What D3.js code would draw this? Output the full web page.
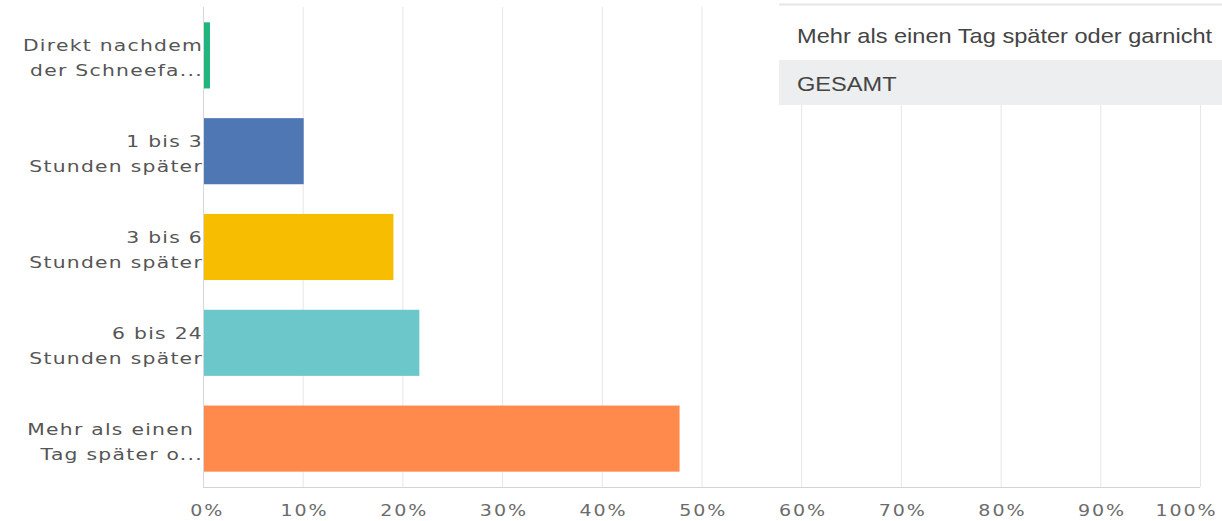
<!DOCTYPE html>
<html lang="de">
<meta charset="utf-8">
<head>
  <title>Schneefall</title>
  <style>
  body { margin: 0; background: #fff; }
  .grid line { stroke: #e6e6e6; stroke-width: 1px; }
  .grid path { display: none; }
  .axis--x path { display: none; }
  .axis--x line { display: none; }
  .axis--x text { font: 15px "DejaVu Sans", sans-serif; fill: #6b6b6b; letter-spacing: 1.5px; }
  .label { font: 16px "DejaVu Sans", sans-serif; fill: #555; letter-spacing: 1px; }
  .tip text { font: 20px "Liberation Sans", Arial, sans-serif; fill: #444; }
  </style>
</head>
<body>
<svg width="1222" height="521"></svg>
<script src="https://cdn.jsdelivr.net/npm/d3@7"></script>
<script>

// answers and shares (percent)
var categories = [
  ["Direkt nachdem", "der Schneefa..."],
  ["1 bis 3", "Stunden später"],
  ["3 bis 6", "Stunden später"],
  ["6 bis 24", "Stunden später"],
  ["Mehr als einen", "Tag später o..."]
];
var values = [0.6, 10.0, 19.0, 21.6, 47.7];
var colors = ["#1fb57c", "#4f77b4", "#f7bd00", "#6cc7cb", "#ff8a4c"];
var tickValues = [0, 10, 20, 30, 40, 50, 60, 70, 80, 90, 100];
var tipTitle = "Mehr als einen Tag später oder garnicht";
var tipRow = "GESAMT";

// the screenshot is a bit stretched sideways, text gets the same stretch
var stretch = 1.27;

var svg = d3.select("svg"),
    margin = {top: 7, right: 20, bottom: 34, left: 203},
    width = 1200 - margin.left,
    height = 487 - margin.top,
    g = svg.append("g").attr("transform", "translate(" + margin.left + "," + margin.top + ")");

var xScale = d3.scaleLinear().domain([0, 100]).range([0, width]);
var yScale = d3.scaleBand()
    .domain(d3.range(categories.length))
    .range([0, height])
    .paddingInner(0.31)
    .paddingOuter(0.16);

// vertical grid
g.append("g")
    .attr("class", "grid")
    .attr("transform", "translate(0," + height + ")")
    .call(d3.axisBottom(xScale).tickValues(tickValues).tickSize(-height).tickFormat(""));

// bottom baseline
g.append("line")
    .attr("x1", 0).attr("x2", width)
    .attr("y1", height + 0.5).attr("y2", height + 0.5)
    .attr("stroke", "#cfd4d8");

g.append("line")
    .attr("x1", 0.5).attr("x2", 0.5)
    .attr("y1", 0).attr("y2", height)
    .attr("stroke", "#d5d9dc");

g.selectAll(".bar")
    .data(values)
  .enter().append("rect")
    .attr("class", "bar")
    .attr("x", xScale(0) + 1)
    .attr("y", function(d, i) { return yScale(i); })
    .attr("width", function(d) { return xScale(d) - xScale(0); })
    .attr("height", yScale.bandwidth())
    .attr("fill", function(d, i) { return colors[i]; });

// first and last tick labels are pulled inwards, like in the original
g.append("g")
    .attr("class", "axis axis--x")
    .attr("transform", "translate(0," + height + ")")
    .call(d3.axisBottom(xScale).tickValues(tickValues).tickFormat(function(d) { return d + "%"; }).tickPadding(12))
  .selectAll("text")
    .attr("dx", function(d) { return d == 100 ? -11 : (d == 0 ? 3 : 1); })
    .attr("transform", "scale(" + stretch + ",1)");

var labels = g.selectAll(".label")
    .data(categories)
  .enter().append("text")
    .attr("class", "label")
    .attr("text-anchor", "end")
    .attr("transform", function(d, i) {
      return "translate(0," + (yScale(i) + yScale.bandwidth() / 2) + ") scale(" + stretch + ",1)";
    });

labels.selectAll("tspan")
    .data(function(d) { return d; })
  .enter().append("tspan")
    // "Mehr als einen" keeps a trailing blank in the original, so it ends a bit earlier
    .attr("x", function(d) { return d == "Mehr als einen" ? -7 : 0; })
    .attr("dy", function(d, j) { return j == 0 ? -4 : 25; })
    .text(function(d) { return d; });

// hover tooltip box
var tip = svg.append("g").attr("class", "tip").attr("transform", "translate(779,0)");
tip.append("rect").attr("x", 0).attr("y", 0).attr("width", 460).attr("height", 105).attr("fill", "#fff");
tip.append("line").attr("x1", 0).attr("x2", 460).attr("y1", 4.5).attr("y2", 4.5).attr("stroke", "#e3e5e6").attr("stroke-width", 2);
tip.append("rect").attr("x", 0).attr("y", 60).attr("width", 460).attr("height", 45).attr("fill", "#eceeef");
tip.append("text").attr("transform", "translate(18,43) scale(1.18,1)").text(tipTitle);
tip.append("text").attr("transform", "translate(18,91) scale(1.18,1)").text(tipRow);

</script>
</body>
</html>
